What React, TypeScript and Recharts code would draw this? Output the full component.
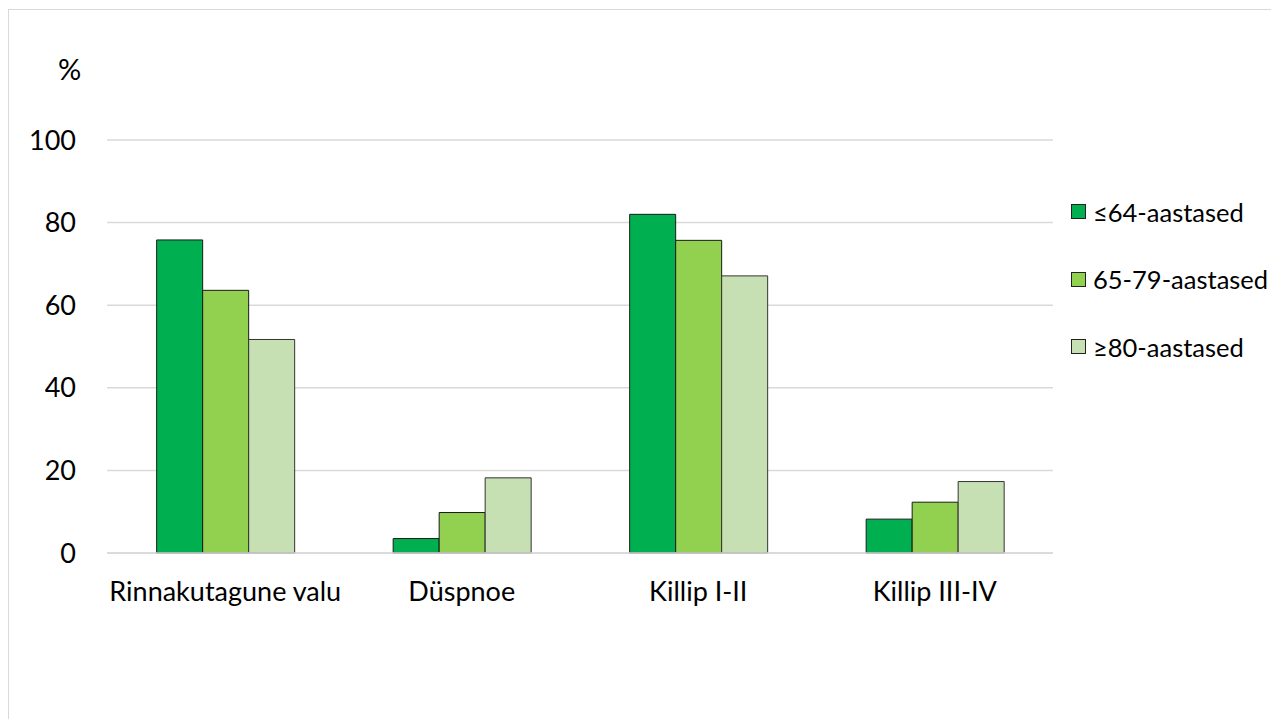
import React from "react";
import { BarChart, Bar, XAxis, YAxis, CartesianGrid, Legend } from "recharts";

const CATEGORIES = ["Rinnakutagune valu", "Düspnoe", "Killip I-II", "Killip III-IV"];
const UNDER_64 = [75.8, 3.5, 82.0, 8.2];
const FROM_65_TO_79 = [63.6, 9.8, 75.7, 12.3];
const OVER_80 = [51.7, 18.2, 67.1, 17.3];
const SERIES_NAMES = ["≤64-aastased", "65-79-aastased", "≥80-aastased"];
const Y_TICKS = [0, 20, 40, 60, 80, 100];

const COLORS = ["#00b050", "#92d050", "#c6e0b4"];
const FONT = "Lato, 'Noto Sans', sans-serif";

const data = CATEGORIES.map((name, i) => ({
  name,
  a: UNDER_64[i],
  b: FROM_65_TO_79[i],
  c: OVER_80[i],
}));

const LegendBox = () => (
  <div style={{ fontFamily: FONT, fontSize: 25.5, color: "#000" }}>
    {SERIES_NAMES.map((n, i) => (
      <div key={n} style={{ display: "flex", alignItems: "center", height: 67.5 }}>
        <span style={{ width: 15, height: 15, background: COLORS[i], border: "1px solid #222", marginRight: 7, boxSizing: "border-box" }} />
        <span style={{ whiteSpace: "nowrap" }}>{n}</span>
      </div>
    ))}
  </div>
);

export default function App() {
  return (
    <div style={{ position: "relative", width: 1271, height: 711, overflow: "hidden" }}>
      <div style={{ position: "absolute", left: 0, top: 1, width: 1400, height: 800, border: "1px solid #d9d9d9" }} />
      <div style={{ position: "absolute", left: 50, top: 43, fontFamily: FONT, fontSize: 29, color: "#000" }}>%</div>
      <BarChart
        width={1271}
        height={711}
        data={data}
        margin={{ top: 132, right: 16, left: 0, bottom: 136 }}
        barCategoryGap="21%"
        barGap={0}
        style={{ position: "absolute", left: 0, top: 0 }}
      >
        <CartesianGrid vertical={false} stroke="#d9d9d9" strokeWidth={1.5} />
        <XAxis
          dataKey="name"
          axisLine={{ stroke: "#d9d9d9", strokeWidth: 1.5 }}
          tickLine={false}
          tickMargin={23}
          tick={{ fill: "#000", fontSize: 27, fontFamily: FONT }}
        />
        <YAxis
          width={99}
          domain={[0, 100]}
          ticks={Y_TICKS}
          axisLine={false}
          tickLine={false}
          tickMargin={25}
          tick={{ fill: "#000", fontSize: 27, fontFamily: FONT }}
        />
        <Legend
          layout="vertical"
          align="right"
          verticalAlign="top"
          content={<LegendBox />}
          wrapperStyle={{ left: 1063, top: 170, width: 210 }}
        />
        <Bar dataKey="a" name={SERIES_NAMES[0]} fill={COLORS[0]} stroke="#1a1a1a" strokeWidth={1} isAnimationActive={false} />
        <Bar dataKey="b" name={SERIES_NAMES[1]} fill={COLORS[1]} stroke="#1a1a1a" strokeWidth={1} isAnimationActive={false} />
        <Bar dataKey="c" name={SERIES_NAMES[2]} fill={COLORS[2]} stroke="#333" strokeWidth={1} isAnimationActive={false} />
      </BarChart>
    </div>
  );
}
